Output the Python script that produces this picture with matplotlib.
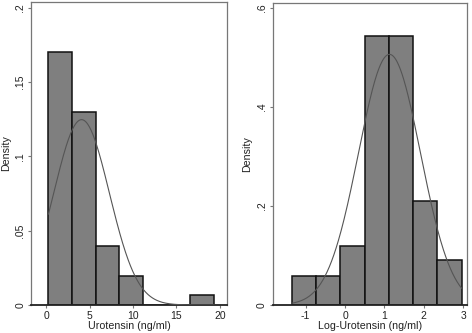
import matplotlib

matplotlib.use("Agg")
import matplotlib.pyplot as plt
import numpy as np

plt.rcParams["font.family"] = ["Liberation Sans", "DejaVu Sans"]

# 왼쪽: Urotensin 원값 히스토그램 (density)
raw_edges = [0.23, 2.96, 5.69, 8.42, 11.15, 13.88, 16.61, 19.34]
raw_density = [0.170, 0.1295, 0.040, 0.0197, 0.0, 0.0, 0.0066]
raw_mean, raw_sd = 4.05, 3.2
raw_xticks = [0, 5, 10, 15, 20]
raw_yticks = [0, 0.05, 0.1, 0.15, 0.2]
raw_yticklabels = ["0", ".05", ".1", ".15", ".2"]

# 오른쪽: 로그 변환
log_edges = [-1.35, -0.734, -0.118, 0.498, 1.114, 1.73, 2.346, 2.962]
log_density = [0.059, 0.059, 0.12, 0.543, 0.543, 0.21, 0.09]
log_mean, log_sd = 1.13, 0.788
log_xticks = [-1, 0, 1, 2, 3]
log_yticks = [0, 0.2, 0.4, 0.6]
log_yticklabels = ["0", ".2", ".4", ".6"]


def normal_pdf(x, mu, sd):
    return np.exp(-0.5 * ((x - mu) / sd) ** 2) / (sd * np.sqrt(2 * np.pi))


def draw(ax, edges, dens, mu, sd, xticks, yticks, yticklabels, xlabel, xlim, ylim):
    edges = np.asarray(edges)
    ax.bar(edges[:-1], dens, width=np.diff(edges), align="edge",
           color="#7f7f7f", edgecolor="#111111", linewidth=1.1, zorder=2)
    xs = np.linspace(edges[0], edges[-1], 300)
    ax.plot(xs, normal_pdf(xs, mu, sd), color="#555555", lw=0.8, zorder=3)
    ax.set_xlim(*xlim); ax.set_ylim(*ylim)
    ax.set_xticks(xticks); ax.set_xticklabels([str(t) for t in xticks])
    ax.set_yticks(yticks); ax.set_yticklabels(yticklabels, rotation=90, va="center")
    ax.tick_params(direction="out", length=2.5, width=0.8, color="#777777",
                   labelsize=7.5, labelcolor="#222222", pad=2)
    for s in ax.spines.values():
        s.set_color("#777777"); s.set_linewidth(0.9)
    ax.spines["bottom"].set_color("#222222")
    ax.spines["bottom"].set_linewidth(1.3)
    ax.set_xlabel(xlabel, fontsize=7.7, color="#222222", labelpad=0)
    ax.set_ylabel("Density", fontsize=7.7, color="#222222", labelpad=3)


fig = plt.figure(figsize=(4.72, 3.33), dpi=100)
ax1 = fig.add_axes([0.0667, 0.0841, 0.4136, 0.9099])
ax2 = fig.add_axes([0.5784, 0.0841, 0.4110, 0.9069])

draw(ax1, raw_edges, raw_density, raw_mean, raw_sd, raw_xticks, raw_yticks,
     raw_yticklabels, "Urotensin (ng/ml)", (-1.73, 20.8), (0, 0.2038))
draw(ax2, log_edges, log_density, log_mean, log_sd, log_xticks, log_yticks,
     log_yticklabels, "Log-Urotensin (ng/ml)", (-1.83, 3.10), (0, 0.61))

fig.savefig("out.png", dpi=100)
plt.close(fig)
